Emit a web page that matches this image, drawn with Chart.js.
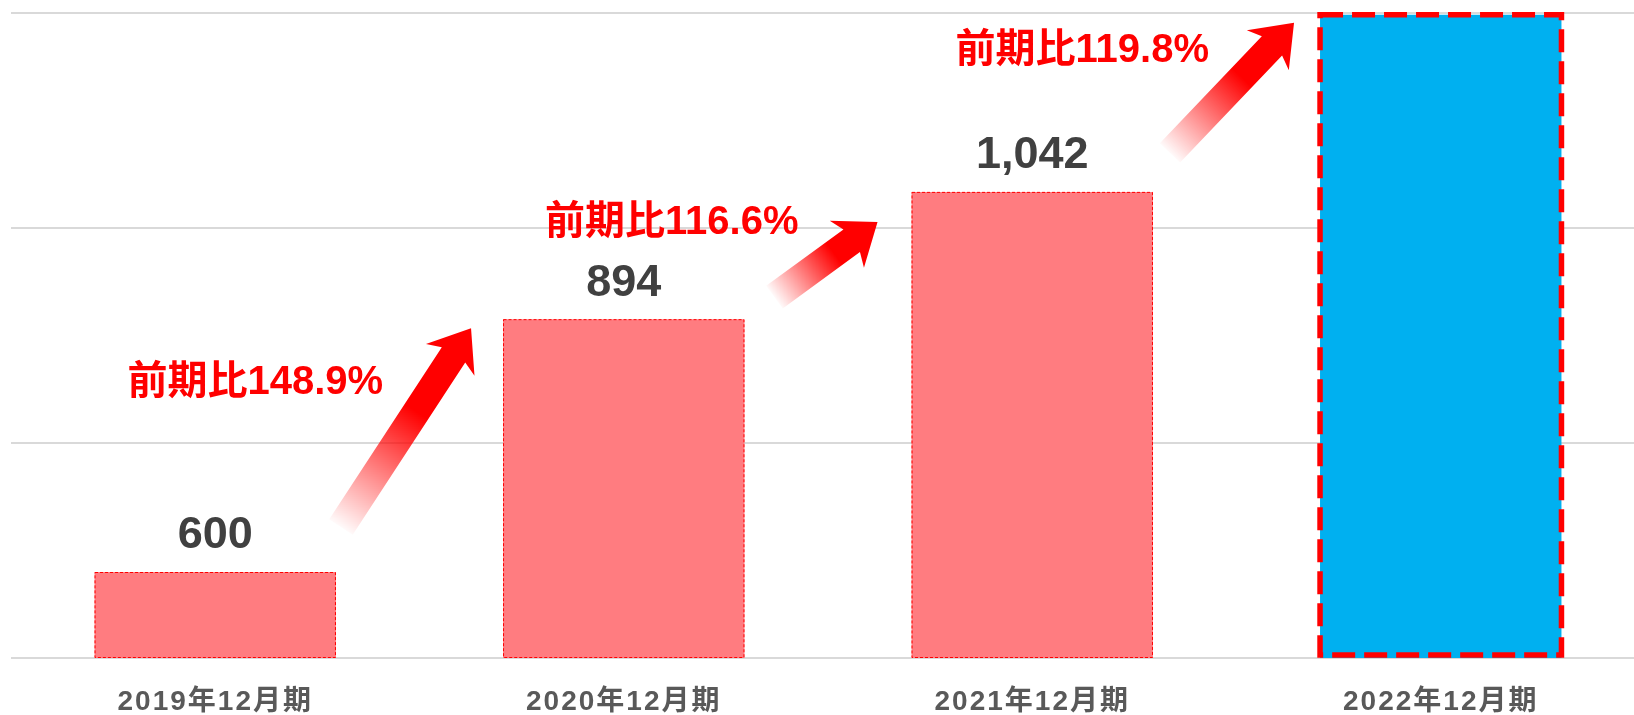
<!DOCTYPE html>
<html lang="ja">
<head>
<meta charset="utf-8">
<title>売上推移</title>
<script src="https://cdn.jsdelivr.net/npm/chart.js@4/dist/chart.umd.min.js"></script>
<style>
  html, body { margin: 0; padding: 0; background: #ffffff; overflow: hidden; }
  #wrap { width: 1646px; height: 715px; }
</style>
</head>
<body>
<div id="wrap"><canvas id="salesChart" width="1646" height="715"></canvas></div>
<script>
// data
const categories = ["2019年12月期", "2020年12月期", "2021年12月期", "2022年12月期"];
const sales = [600, 894, 1042, 1248];
const valueLabels = ["600", "894", "1,042", ""];
const growthLabels = ["前期比148.9%", "前期比116.6%", "前期比119.8%"];
const yMin = 500;
const yMax = 1250;
const yStep = 250;

Chart.defaults.font.family = '"Liberation Sans", "Noto Sans CJK JP", Arial, sans-serif';

function drawArrow(ctx, x0, y0, x1, y1) {
  var dx = x1 - x0, dy = y1 - y0;
  var len = Math.hypot(dx, dy);
  var ux = dx / len, uy = dy / len;
  var px = -uy, py = ux;
  var shaft = 14, head = 29, headLen = 32, sweep = 6;
  var bx = x1 - ux * headLen, by = y1 - uy * headLen;

  var grad = ctx.createLinearGradient(x0, y0, x1, y1);
  grad.addColorStop(0, "rgba(255,0,0,0.02)");
  grad.addColorStop(0.58, "rgba(255,0,0,1)");
  grad.addColorStop(1, "rgba(255,0,0,1)");

  ctx.beginPath();
  ctx.moveTo(x0 + px * shaft, y0 + py * shaft);
  ctx.lineTo(bx + px * shaft, by + py * shaft);
  ctx.lineTo(bx + px * head - ux * sweep, by + py * head - uy * sweep);
  ctx.lineTo(x1, y1);
  ctx.lineTo(bx - px * head - ux * sweep, by - py * head - uy * sweep);
  ctx.lineTo(bx - px * shaft, by - py * shaft);
  ctx.lineTo(x0 - px * shaft, y0 - py * shaft);
  ctx.closePath();
  ctx.fillStyle = grad;
  ctx.fill();
}

const decorations = {
  id: "decorations",
  beforeDraw(chart) {
    // a little tracking for the category labels
    chart.ctx.letterSpacing = "2px";
  },
  afterDatasetsDraw(chart, args, opts) {
    const ctx = chart.ctx;
    ctx.letterSpacing = "0px";
    const bars = chart.getDatasetMeta(0).data;
    const bottom = chart.chartArea.bottom;

    // dashed outlines
    bars.forEach(function (bar, i) {
      var left = bar.x - bar.width / 2;
      var base = Math.min(bar.base, bottom);
      ctx.save();
      ctx.strokeStyle = "#FF0000";
      if (i === bars.length - 1) {
        ctx.lineWidth = 5.5;
        ctx.setLineDash([23, 9]);
        ctx.strokeRect(left, bar.y, bar.width, base - bar.y - 3);
      } else {
        ctx.lineWidth = 1;
        ctx.setLineDash([3, 2]);
        ctx.strokeRect(left + 0.5, bar.y + 0.5, bar.width - 1, base - bar.y - 1);
      }
      ctx.restore();
    });

    // growth arrows, from one bar to the next
    opts.arrows.forEach(function (a, i) {
      var from = bars[i], to = bars[i + 1];
      var x0 = from.x + from.width / 2 + a.tail[0];
      var y0 = from.y + a.tail[1];
      var x1 = to.x - to.width / 2 + a.tip[0];
      var y1 = to.y + a.tip[1];
      ctx.save();
      drawArrow(ctx, x0, y0, x1, y1);
      ctx.restore();
    });

    ctx.save();
    ctx.textAlign = "center";
    ctx.textBaseline = "middle";

    // values above bars
    ctx.fillStyle = "#404040";
    ctx.font = 'bold 45px "Liberation Sans", Arial, sans-serif';
    bars.forEach(function (bar, i) {
      if (valueLabels[i]) ctx.fillText(valueLabels[i], bar.x, bar.y - 36);
    });

    // growth labels
    ctx.fillStyle = "#FF0000";
    ctx.font = 'bold 40px "Liberation Sans", "Noto Sans CJK JP", sans-serif';
    growthLabels.forEach(function (txt, i) {
      var off = opts.growthOffsets[i];
      ctx.fillText(txt, bars[i].x + off[0], bars[i + 1].y + off[1]);
    });
    ctx.restore();
  }
};

var ctx = document.getElementById("salesChart").getContext("2d");
var salesChart = new Chart(ctx, {
  type: "bar",
  data: {
    labels: categories,
    datasets: [
      {
        label: "売上高",
        data: sales,
        backgroundColor: ["#FF7C80", "#FF7C80", "#FF7C80", "#00B0F0"],
        borderWidth: 0,
        barPercentage: 1,
        categoryPercentage: 0.591
      }
    ]
  },
  options: {
    responsive: false,
    animation: false,
    devicePixelRatio: 1,
    layout: {
      padding: { left: 11, right: 1, top: 13, bottom: 0 }
    },
    plugins: {
      legend: { display: false },
      tooltip: { enabled: false },
      decorations: {
        arrows: [
          { tail: [5, -45], tip: [-32, 9] },
          { tail: [30, -22], tip: [-34, 30] },
          { tail: [17, -39], tip: [-26, 8] }
        ],
        growthOffsets: [[40, 64], [48, 31], [50, 36]]
      }
    },
    scales: {
      x: {
        grid: { display: false, drawTicks: false },
        border: { display: false },
        ticks: {
          color: "#595959",
          padding: 30,
          font: { size: 28, weight: "bold", lineHeight: 1 }
        },
        afterFit: function (scale) { scale.height = 57; }
      },
      y: {
        min: yMin,
        max: yMax,
        grid: { color: "#D9D9D9", lineWidth: 2, drawTicks: false },
        border: { display: false },
        ticks: { display: false, stepSize: yStep },
        afterFit: function (scale) { scale.width = 0; }
      }
    }
  },
  plugins: [decorations]
});
</script>
</body>
</html>
